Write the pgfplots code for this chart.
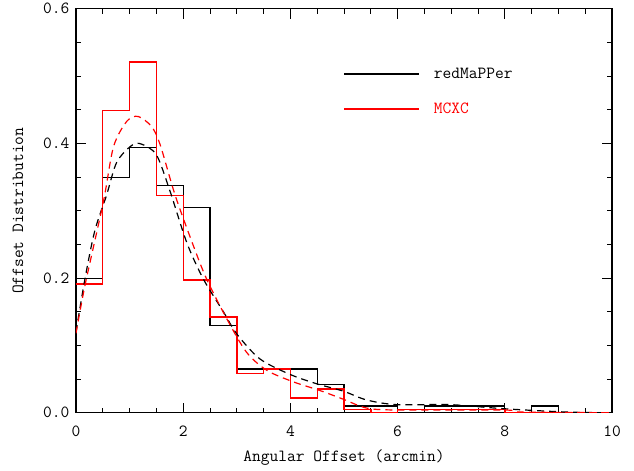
\documentclass[border=0pt]{standalone}
\usepackage{pgfplots}
\pgfplotsset{compat=1.18}
\renewcommand{\familydefault}{\ttdefault}
\newcommand{\lab}{\fontsize{17}{20}\selectfont\ttfamily}
\begin{document}
\begin{tikzpicture}
\begin{axis}[
  scale only axis,
  width=536pt, height=404pt,
  xmin=0, xmax=10, ymin=0, ymax=0.6,
  xtick={0,2,...,10}, ytick={0,0.2,0.4,0.6},
  minor x tick num=3, minor y tick num=3,
  tick align=inside,
  major tick length=10pt, minor tick length=5pt,
  tick style={black, line width=0.9pt},
  axis line style={line width=1.1pt},
  /pgf/number format/assume math mode=true,
  xticklabel style={font=\lab, yshift=-10pt},
  yticklabel style={font=\lab, xshift=-3pt, /pgf/number format/fixed, /pgf/number format/fixed zerofill, /pgf/number format/precision=1},
  xlabel={Angular Offset (arcmin)}, ylabel={Offset Distribution},
  xlabel style={font=\lab, yshift=-6pt},
  ylabel style={font=\lab, yshift=13pt},
  legend style={at={(axis cs:4.93,0.518)}, anchor=north west, draw=none, fill=none, font=\lab, row sep=19pt, column sep=12pt},
  legend cell align=left,
  legend image code/.code={\draw[#1] (0pt,0pt) -- (75pt,0pt);},
]
\addplot[black, line width=1.2pt, const plot mark left] coordinates {
(0,0.199)(0.5,0.349)(1.0,0.394)(1.5,0.338)(2.0,0.305)(2.5,0.130)(3.0,0.065)(3.5,0.065)(4.0,0.065)(4.5,0.042)
(5.0,0.010)(5.5,0.010)(6.0,0.005)(6.5,0.010)(7.0,0.010)(7.5,0.010)(8.0,0.0)(8.5,0.010)(9.0,0.0)(9.5,0.0)(10,0.0)};
\addlegendentry{redMaPPer}
\addplot[red, line width=1.4pt, const plot mark left] coordinates {
(0,0.191)(0.5,0.449)(1.0,0.521)(1.5,0.323)(2.0,0.197)(2.5,0.142)(3.0,0.058)(3.5,0.065)(4.0,0.022)(4.5,0.035)
(5.0,0.005)(5.5,0.0)(6.0,0.005)(6.5,0.005)(7.0,0.005)(7.5,0.005)(8.0,0.0)(8.5,0.0)(9.0,0.0)(9.5,0.0)(10,0.0)};
\addlegendentry{\textcolor{red}{MCXC}}
\addplot[black, line width=1.2pt, dash pattern=on 7pt off 5pt, smooth, tension=0.5, forget plot] coordinates {
(0,0.12)(0.17,0.20)(0.35,0.27)(0.57,0.323)(0.76,0.372)(1.04,0.397)(1.22,0.399)(1.5,0.383)(1.75,0.33)(2.07,0.252)
(2.38,0.198)(2.75,0.150)(3.0,0.117)(3.43,0.080)(3.99,0.057)(4.49,0.043)(4.99,0.032)(5.42,0.019)(5.98,0.012)(6.98,0.012)(7.97,0.006)(9.15,0.001)(10,0)};
\addplot[red, line width=1.2pt, dash pattern=on 7pt off 5pt, smooth, tension=0.5, forget plot] coordinates {
(0,0.118)(0.17,0.19)(0.51,0.313)(0.70,0.395)(0.95,0.433)(1.16,0.44)(1.41,0.425)(1.57,0.398)(1.85,0.323)(2.19,0.248)
(2.44,0.198)(2.81,0.140)(3.18,0.090)(3.56,0.063)(4.05,0.046)(4.55,0.033)(4.99,0.020)(5.42,0.007)(6,0.004)(8,0.004)(8.3,0.001)(10,0)};
\end{axis}
\path (current axis.south west) ++(-76pt,-58pt) coordinate (bl);
\path (current axis.north east) ++(22pt,5pt) coordinate (tr);
\path (bl) (tr);
\end{tikzpicture}
\end{document}
